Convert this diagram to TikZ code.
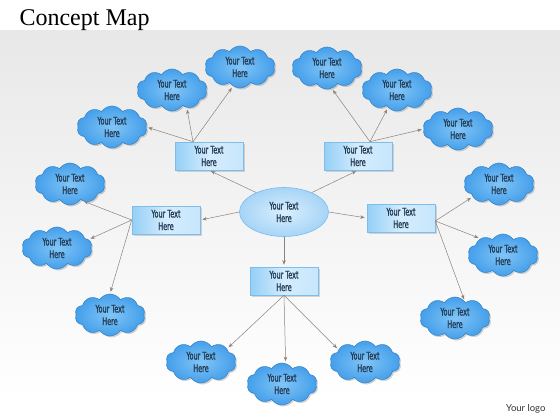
\documentclass[tikz,border=0pt]{standalone}
\usepackage{fontspec}
\usetikzlibrary{shapes.symbols,shapes.geometric,shadows,arrows.meta}
\newfontfamily\mapfont[FakeStretch=0.62,FakeBold=1.2]{DejaVu Sans}
\newfontfamily\titlefont{Liberation Serif}
\newfontfamily\logofont{Lato}
\definecolor{cloudlight}{HTML}{80C5F7}
\definecolor{clouddark}{HTML}{459FEA}
\definecolor{cloudline}{HTML}{3586CC}
\definecolor{boxlight}{HTML}{D4ECFD}
\definecolor{boxdark}{HTML}{94CFF6}
\definecolor{boxline}{HTML}{7DBDEB}
\definecolor{ovallight}{HTML}{D9EFFD}
\definecolor{ovaldark}{HTML}{A6D4F6}
\definecolor{linkgray}{HTML}{8C827A}
\definecolor{textblue}{HTML}{243A52}
\tikzset{
  idea/.style={cloud, cloud puffs=10, cloud puff arc=115, cloud ignores aspect,
    minimum width=70pt, minimum height=42pt, inner sep=0pt,
    draw=cloudline, line width=0.6pt, inner color=cloudlight, outer color=clouddark,
    drop shadow={opacity=0.35, shadow xshift=1.5pt, shadow yshift=-1.5pt},
    align=center, text=textblue, font=\mapfont\fontsize{10.5}{12.5}\selectfont},
  topic/.style={rectangle, minimum width=68pt, minimum height=28pt, inner sep=0pt,
    draw=boxline, line width=0.6pt, left color=boxdark, right color=boxlight!80!boxdark, middle color=boxlight,
    drop shadow={opacity=0.3, shadow xshift=1.5pt, shadow yshift=-1.5pt},
    align=center, text=textblue, font=\mapfont\fontsize{10.5}{12.5}\selectfont},
  hub/.style={ellipse, minimum width=89pt, minimum height=49pt, inner sep=0pt,
    draw=boxline, line width=0.6pt, inner color=ovallight, outer color=ovaldark,
    align=center, text=textblue, font=\mapfont\fontsize{10.5}{12.5}\selectfont},
  link/.style={draw=linkgray, line width=0.5pt, -{Stealth[length=4.5pt,width=3.5pt]}, shorten >=2pt}
}
\begin{document}
\begin{tikzpicture}[x=1pt, y=-1pt]
    \useasboundingbox (0,0) rectangle (560,420);
    \fill[white] (0,0) rectangle (560,420);
    \shade[top color=black!9, bottom color=white] (0,31) rectangle (560,400);
    \node[anchor=base west, font=\titlefont\fontsize{24}{28}\selectfont] (title) at (16,26) {Concept Map};
    \node[anchor=base east, font=\logofont\fontsize{9.5}{11}\selectfont, text=black!80] (logo) at (549,411) {Your logo};

    % centre and the five topics
    \node[hub] (hub) at (284,212) {Your Text\\Here};
    \node[topic] (tl) at (209,156) {Your Text\\Here};
    \node[topic] (tr) at (358,156) {Your Text\\Here};
    \node[topic] (lt) at (166,220) {Your Text\\Here};
    \node[topic] (rt) at (401,218) {Your Text\\Here};
    \node[topic] (bt) at (284,281) {Your Text\\Here};

    % clouds
    \node[idea] (tla) at (112,127) {Your Text\\Here};
    \node[idea] (tlb) at (172,90) {Your Text\\Here};
    \node[idea] (tlc) at (240,67) {Your Text\\Here};
    \node[idea] (tra) at (327,68) {Your Text\\Here};
    \node[idea] (trb) at (397,90) {Your Text\\Here};
    \node[idea] (trc) at (458,129) {Your Text\\Here};
    \node[idea] (lfa) at (70,184) {Your Text\\Here};
    \node[idea] (lfb) at (57,248) {Your Text\\Here};
    \node[idea] (lfc) at (110,315) {Your Text\\Here};
    \node[idea] (rta) at (499,184) {Your Text\\Here};
    \node[idea] (rtb) at (503,255) {Your Text\\Here};
    \node[idea] (rtc) at (455,318) {Your Text\\Here};
    \node[idea] (bta) at (201,362) {Your Text\\Here};
    \node[idea] (btb) at (282,384) {Your Text\\Here};
    \node[idea] (btc) at (365,362) {Your Text\\Here};

    % links
    \draw[link] (hub.145) -- (tl.south);
    \draw[link] (hub.35) -- (tr.south);
    \draw[link] (hub.west) -- (lt.east);
    \draw[link] (hub.east) -- (rt.west);
    \draw[link] (hub.south) -- (bt.north);
    \draw[link] ([xshift=-16pt]tl.north) -- (tla.east);
    \draw[link] ([xshift=-16pt]tl.north) -- (tlb.-50);
    \draw[link] ([xshift=-16pt]tl.north) -- (tlc.-110);
    \draw[link] ([xshift=12pt]tr.north) -- (tra.-77);
    \draw[link] ([xshift=12pt]tr.north) -- (trb.-117);
    \draw[link] ([xshift=12pt]tr.north) -- (trc.west);
    \draw[link] (lt.west) -- (lfa.-54);
    \draw[link] (lt.west) -- (lfb.15);
    \draw[link] (lt.west) -- (lfc.north);
    \draw[link] ([yshift=-3pt]rt.east) -- (rta.-154);
    \draw[link] ([yshift=-3pt]rt.east) -- (rtb.144);
    \draw[link] ([yshift=-3pt]rt.east) -- (rtc.60);
    \draw[link] (bt.south) -- (bta.27);
    \draw[link] (bt.south) -- (btb.80);
    \draw[link] (bt.south) -- (btc.155);
\end{tikzpicture}
\end{document}
